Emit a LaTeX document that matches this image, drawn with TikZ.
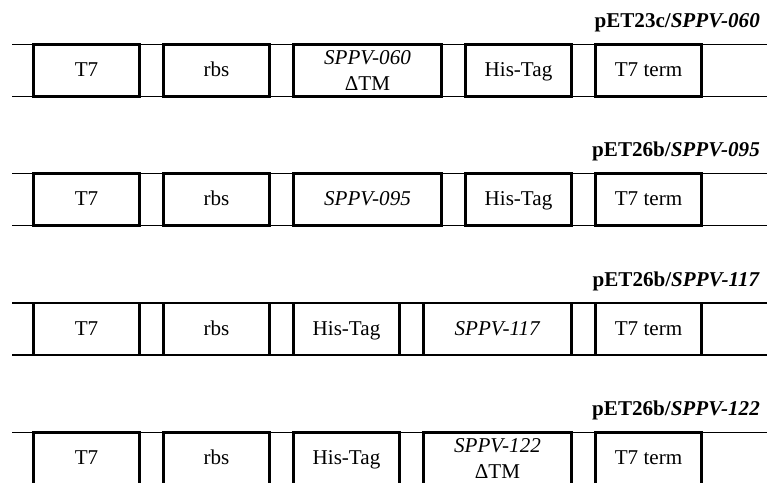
\documentclass[tikz,border=0pt]{standalone}
\usepackage{fontspec}
\setmainfont{Liberation Serif}
\usetikzlibrary{positioning}

\begin{document}
\begin{tikzpicture}[x=0.02cm,y=-0.02cm,
    part/.style = {draw, line width=1.6pt, minimum width=2.12cm, minimum height=1.04cm,
                   inner sep=0pt, align=center, text height=7.9pt, text depth=1.1pt,
                   font=\fontsize{12}{14.5}\selectfont},
    gene/.style = {part, minimum width=2.96cm},
    twoline/.style = {text height=22.4pt, text depth=-3.2pt},
    strand/.style = {line width=0.8pt},
    construct/.style = {anchor=base east, font=\bfseries\fontsize{12}{14}\selectfont}]
\useasboundingbox (0,0) rectangle (772,483);
\clip (0,0) rectangle (772,483);
% pET23c / SPPV-060
\begin{scope}
    \coordinate (s1) at (12,44.5);  \coordinate (e1) at (767,44.5);
    \coordinate (s2) at (12,96.5);  \coordinate (e2) at (767,96.5);
    \draw[strand] (s1) -- (e1);
    \draw[strand] (s2) -- (e2);
    \node[part] (t7)   at (86.5,70.5)  {T7};
    \node[part] (rbs)  at (216.5,70.5) {rbs};
    \node[gene,twoline] (orf) at (367.5,70.5) {\textit{SPPV-060}\\ΔTM};
    \node[part] (his)  at (518.5,70.5) {His-Tag};
    \node[part] (term) at (648.5,70.5) {T7 term};
    \node[construct] (name) at (766,27.5) {pET23c/\textit{SPPV-060}};
\end{scope}
% pET26b / SPPV-095
\begin{scope}[yshift=-2.586cm]
    \coordinate (s1) at (12,44.5);  \coordinate (e1) at (767,44.5);
    \coordinate (s2) at (12,96.5);  \coordinate (e2) at (767,96.5);
    \draw[strand] (s1) -- (e1);
    \draw[strand] (s2) -- (e2);
    \node[part] (t7)   at (86.5,70.5)  {T7};
    \node[part] (rbs)  at (216.5,70.5) {rbs};
    \node[gene] (orf)  at (367.5,70.5) {\textit{SPPV-095}};
    \node[part] (his)  at (518.5,70.5) {His-Tag};
    \node[part] (term) at (648.5,70.5) {T7 term};
    \node[construct] (name) at (766,27.5) {pET26b/\textit{SPPV-095}};
\end{scope}
% pET26b / SPPV-117
\begin{scope}[yshift=-5.172cm]
    \coordinate (s1) at (12,44.5);  \coordinate (e1) at (767,44.5);
    \coordinate (s2) at (12,96.5);  \coordinate (e2) at (767,96.5);
    \draw[strand] (s1) -- (e1);
    \draw[strand] (s2) -- (e2);
    \node[part] (t7)   at (86.5,70.5)  {T7};
    \node[part] (rbs)  at (216.5,70.5) {rbs};
    \node[part] (his)  at (346.5,70.5) {His-Tag};
    \node[gene] (orf)  at (497.5,70.5) {\textit{SPPV-117}};
    \node[part] (term) at (648.5,70.5) {T7 term};
    \node[construct] (name) at (766,27.5) {pET26b/\textit{SPPV-117}};
\end{scope}
% pET26b / SPPV-122
\begin{scope}[yshift=-7.758cm]
    \coordinate (s1) at (12,44.5);  \coordinate (e1) at (767,44.5);
    \coordinate (s2) at (12,96.5);  \coordinate (e2) at (767,96.5);
    \draw[strand] (s1) -- (e1);
    \draw[strand] (s2) -- (e2);
    \node[part] (t7)   at (86.5,70.5)  {T7};
    \node[part] (rbs)  at (216.5,70.5) {rbs};
    \node[part] (his)  at (346.5,70.5) {His-Tag};
    \node[gene,twoline] (orf) at (497.5,70.5) {\textit{SPPV-122}\\ΔTM};
    \node[part] (term) at (648.5,70.5) {T7 term};
    \node[construct] (name) at (766,27.5) {pET26b/\textit{SPPV-122}};
\end{scope}
\end{tikzpicture}
\end{document}
